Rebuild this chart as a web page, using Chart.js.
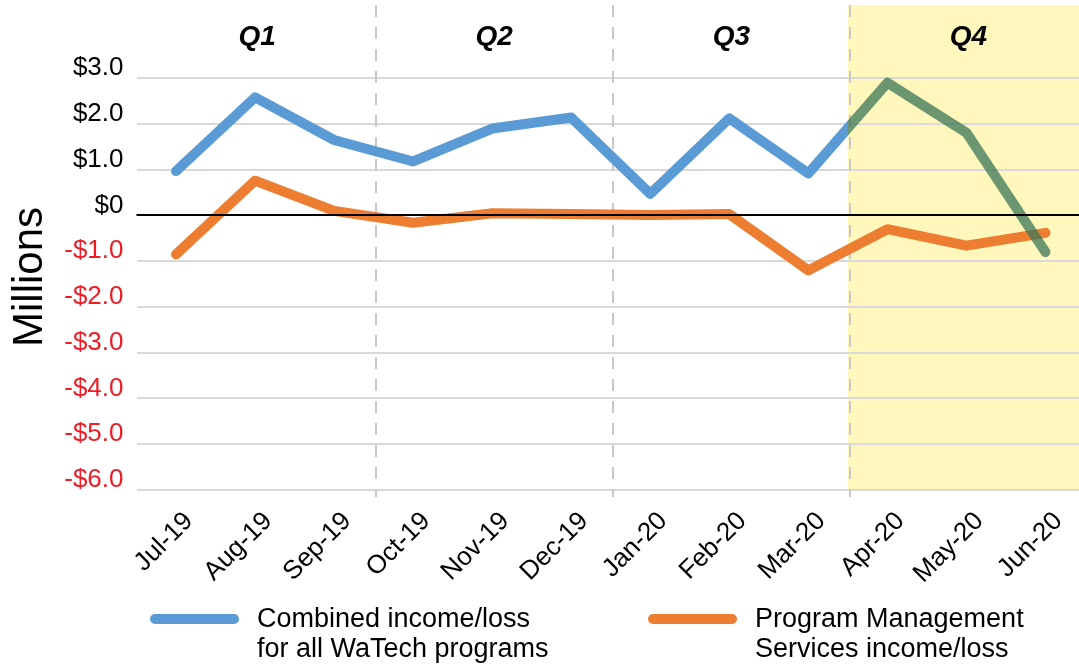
<!DOCTYPE html>
<html>
<head>
<meta charset="utf-8">
<script src="https://cdn.jsdelivr.net/npm/chart.js@4.4.1/dist/chart.umd.min.js"></script>
<style>
    html, body { margin: 0; padding: 0; overflow: hidden; background: #fff; }
    #wrap { width: 1085px; height: 666px; position: relative; }
</style>
</head>
<body>
<div id="wrap"><canvas id="chart"></canvas></div>
<script>
// Data (millions of dollars)
const months = ['Jul-19', 'Aug-19', 'Sep-19', 'Oct-19', 'Nov-19', 'Dec-19',
                'Jan-20', 'Feb-20', 'Mar-20', 'Apr-20', 'May-20', 'Jun-20'];
const combined = [0.97, 2.58, 1.65, 1.18, 1.90, 2.14, 0.47, 2.12, 0.92, 2.90, 1.81, -0.80];
const pms = [-0.85, 0.76, 0.10, -0.16, 0.05, 0.03, 0.01, 0.03, -1.20, -0.30, -0.66, -0.38];
const yTicks = [3, 2, 1, 0, -1, -2, -3, -4, -5, -6];
const quarters = ['Q1', 'Q2', 'Q3', 'Q4'];
const seriesNames = [
    ['Combined income/loss', 'for all WaTech programs'],
    ['Program Management', 'Services income/loss']
];

const FONT = '"Liberation Sans", Arial, sans-serif';
const BLUE = '#5B9BD5';
const BLUE_Q4 = 'rgba(58, 118, 86, 0.75)';
const ORANGE = '#ED7D31';
const RED = '#EE1C25';
const YELLOW = '#FFF7BC';
const HIGHLIGHT_Q = 3;

// pixel edges of each quarter, from the category scale
function quarterEdges(chart) {
    const x = chart.scales.x;
    const area = chart.chartArea;
    const edges = [area.left];
    for (let q = 1; q < quarters.length; q++) {
        edges.push((x.getPixelForValue(3 * q - 1) + x.getPixelForValue(3 * q)) / 2);
    }
    edges.push(area.right);
    return edges;
}

function blueStroke(ctx) {
    const chart = ctx.chart;
    const area = chart.chartArea;
    if (!area || !chart.scales.x) return BLUE;
    const edge = quarterEdges(chart)[HIGHLIGHT_Q];
    const t = (edge - area.left) / (area.right - area.left);
    const g = chart.ctx.createLinearGradient(area.left, 0, area.right, 0);
    g.addColorStop(0, BLUE);
    g.addColorStop(t, BLUE);
    g.addColorStop(t, BLUE_Q4);
    g.addColorStop(1, BLUE_Q4);
    return g;
}

const quarterPlugin = {
    id: 'quarters',
    beforeDraw(chart) {
        // yellow band behind the grid for the highlighted quarter
        const { ctx, chartArea } = chart;
        const edges = quarterEdges(chart);
        ctx.save();
        ctx.fillStyle = YELLOW;
        ctx.fillRect(edges[HIGHLIGHT_Q], chartArea.top, edges[HIGHLIGHT_Q + 1] - edges[HIGHLIGHT_Q], chartArea.bottom - chartArea.top);
        ctx.restore();
    },
    beforeDatasetsDraw(chart) {
        // dashed quarter dividers plus small tick marks under the axis
        const { ctx, chartArea } = chart;
        const edges = quarterEdges(chart);
        ctx.save();
        ctx.strokeStyle = '#C8C8C8';
        ctx.lineWidth = 2;
        for (let i = 1; i < edges.length - 1; i++) {
            const x = Math.round(edges[i]) + 2;
            ctx.setLineDash([12, 10]);
            ctx.beginPath();
            ctx.moveTo(x, chartArea.top);
            ctx.lineTo(x, chartArea.bottom);
            ctx.stroke();
            ctx.setLineDash([]);
            ctx.beginPath();
            ctx.moveTo(x, chartArea.bottom);
            ctx.lineTo(x, chartArea.bottom + 7);
            ctx.stroke();
        }
        ctx.restore();
    },
    afterDatasetsDraw(chart) {
        const { ctx, chartArea } = chart;
        const y0 = Math.round(chart.scales.y.getPixelForValue(0));
        ctx.save();
        ctx.strokeStyle = '#000';
        ctx.lineWidth = 2;
        ctx.beginPath();
        ctx.moveTo(chartArea.left, y0);
        ctx.lineTo(chartArea.right, y0);
        ctx.stroke();
        ctx.restore();
    },
    afterDraw(chart) {
        const { ctx } = chart;
        const edges = quarterEdges(chart);
        ctx.save();
        // quarter labels
        ctx.fillStyle = '#000';
        ctx.font = 'italic bold 28px ' + FONT;
        ctx.textAlign = 'center';
        ctx.textBaseline = 'alphabetic';
        quarters.forEach((q, i) => {
            ctx.fillText(q, (edges[i] + edges[i + 1]) / 2 + 2, 45);
        });

        // y axis title
        ctx.save();
        ctx.translate(42, 277);
        ctx.rotate(-Math.PI / 2);
        ctx.font = '42px ' + FONT;
        ctx.fillText('Millions', 0, 0);
        ctx.restore();

        // legend
        const items = [
            { color: BLUE, x: 150 },
            { color: ORANGE, x: 648 }
        ];
        ctx.font = '27px ' + FONT;
        ctx.textAlign = 'left';
        items.forEach((item, i) => {
            ctx.strokeStyle = item.color;
            ctx.lineWidth = 10;
            ctx.lineCap = 'round';
            ctx.beginPath();
            ctx.moveTo(item.x + 5, 619);
            ctx.lineTo(item.x + 84, 619);
            ctx.stroke();
            seriesNames[i].forEach((line, j) => {
                ctx.fillText(line, item.x + 107, 627 + j * 30);
            });
        });
        ctx.restore();
    }
};

const chart = new Chart(document.getElementById('chart'), {
    type: 'line',
    data: {
        labels: months,
        datasets: [
            {
                label: seriesNames[0].join(' '),
                data: combined,
                borderColor: blueStroke,
                borderWidth: 10,
                borderCapStyle: 'round',
                borderJoinStyle: 'round',
                pointRadius: 0,
                tension: 0
            },
            {
                label: seriesNames[1].join(' '),
                data: pms,
                borderColor: ORANGE,
                borderWidth: 10,
                borderCapStyle: 'round',
                borderJoinStyle: 'round',
                pointRadius: 0,
                tension: 0
            }
        ]
    },
    options: {
        responsive: true,
        maintainAspectRatio: false,
        animation: false,
        layout: { padding: { top: 5, left: 0, right: 0, bottom: 0 } },
        plugins: {
            legend: { display: false },
            tooltip: { enabled: false }
        },
        scales: {
            x: {
                offset: true,
                grid: { display: false, drawTicks: false },
                border: { display: false },
                ticks: {
                    color: '#000',
                    font: { family: FONT, size: 26 },
                    minRotation: 45,
                    maxRotation: 45,
                    autoSkip: false,
                    padding: 16,
                    labelOffset: 13
                },
                afterFit(scale) {
                    scale.height = 176;
                    scale.paddingLeft = 0;
                    scale.paddingRight = 0;
                }
            },
            y: {
                min: -6,
                max: 4.6,
                afterBuildTicks(scale) {
                    scale.ticks = yTicks.map(v => ({ value: v }));
                },
                grid: {
                    color: '#D9D9D9',
                    lineWidth: 2,
                    drawTicks: false
                },
                border: { display: false },
                ticks: {
                    font: { family: FONT, size: 26 },
                    color: c => (c.tick.value < 0 ? RED : '#000'),
                    padding: 13,
                    labelOffset: -10,
                    callback: v => (v === 0 ? '$0' : (v < 0 ? '-$' : '$') + Math.abs(v).toFixed(1))
                },
                afterFit(scale) {
                    scale.width = 136.5;
                    scale.paddingTop = 0;
                    scale.paddingBottom = 0;
                }
            }
        }
    },
    plugins: [quarterPlugin]
});
</script>
</body>
</html>
